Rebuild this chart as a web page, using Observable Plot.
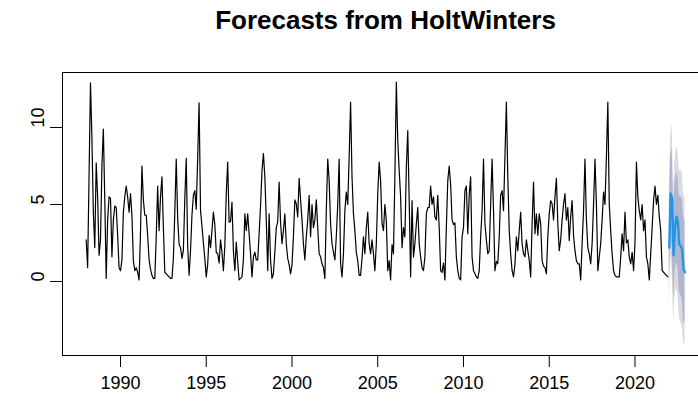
<!DOCTYPE html>
<html><head><meta charset="utf-8">
<script src="https://cdn.jsdelivr.net/npm/d3@7"></script>
<script src="https://cdn.jsdelivr.net/npm/@observablehq/plot@0.6"></script>
<style>html,body{margin:0;padding:0;background:#fff;overflow:hidden;}</style>
</head><body><div id="chart"></div>
<script>
const titleText = "Forecasts from HoltWinters";
const startYear = 1988;
// monthly observations, Jan 1988 - Dec 2021 (one row per year)
const observed = [
  2.7, 0.9, 6.9, 12.9, 9.3, 4.5, 2.2, 7.7, 5.5, 1.7, 2.7, 7.5,
  9.9, 5.3, 0.2, 4.0, 5.5, 5.4, 1.6, 4.0, 4.9, 4.8, 3.0, 0.9,
  0.7, 1.4, 4.5, 5.5, 6.2, 5.5, 4.5, 5.7, 4.3, 1.35, 0.7, 0.9,
  0.6, 0.1, 3.2, 7.5, 5.3, 4.3, 4.3, 3.0, 1.4, 0.8, 0.4, 0.2,
  0.2, 2.9, 6.2, 3.3, 5.5, 6.8, 3.5, 0.6, 0.5, 0.4, 0.3, 0.2,
  0.2, 1.5, 4.5, 7.95, 4.1, 2.4, 2.2, 1.5, 2.0, 5.4, 8.0, 2.3,
  0.4, 2.0, 4.3, 5.6, 5.9, 4.7, 8.0, 11.6, 4.6, 3.6, 2.5, 1.5,
  0.3, 1.1, 3.0, 2.2, 3.3, 4.5, 3.7, 1.9, 1.8, 1.2, 2.7, 1.9,
  0.7, 2.3, 5.7, 7.75, 3.85, 3.9, 5.15, 2.0, 0.7, 2.55, 1.3, 0.1,
  0.2, 0.3, 1.4, 4.4, 3.3, 4.4, 3.1, 1.8, 0.3, 1.6, 1.9, 1.4,
  1.4, 3.1, 4.9, 7.2, 8.3, 6.8, 4.0, 0.7, 4.4, 1.4, 0.2, 0.5,
  1.9, 3.5, 3.85, 6.45, 3.85, 2.45, 3.3, 4.4, 2.45, 1.5, 1.1, 0.5,
  1.1, 2.9, 5.3, 5.05, 4.2, 6.7, 5.3, 4.0, 2.45, 1.4, 2.9, 4.0,
  5.6, 2.9, 5.0, 3.5, 4.0, 5.3, 3.5, 1.8, 1.6, 1.15, 0.9, 0.2,
  4.6, 7.95, 6.55, 3.75, 2.45, 1.9, 1.4, 2.9, 5.0, 7.95, 1.15, 0.3,
  1.8, 4.6, 5.8, 5.0, 8.1, 11.65, 6.8, 4.4, 3.3, 1.9, 1.35, 0.4,
  0.4, 1.5, 2.9, 1.8, 3.5, 4.5, 2.45, 1.8, 2.7, 1.8, 0.7, 2.45,
  5.7, 7.75, 6.55, 3.75, 3.3, 5.0, 3.95, 0.7, 1.35, 0.1, 2.4, 1.8,
  6.9, 12.94, 9.15, 7.2, 5.5, 2.2, 3.5, 2.9, 7.4, 9.8, 5.25, 0.3,
  5.25, 1.6, 2.45, 3.75, 4.8, 2.45, 1.6, 0.9, 0.7, 1.6, 4.4, 4.8,
  4.8, 6.2, 5.0, 5.5, 4.2, 4.0, 5.6, 3.5, 0.7, 0.6, 1.2, 0.1,
  3.5, 6.55, 7.5, 6.3, 4.0, 3.7, 3.8, 1.6, 0.7, 0.2, 0.1, 2.9,
  3.5, 5.9, 6.2, 3.1, 5.6, 6.8, 1.6, 0.7, 0.5, 0.3, 0.2, 0.7,
  2.9, 4.6, 7.95, 3.75, 2.7, 1.8, 2.0, 5.0, 7.95, 4.6, 0.7, 1.3,
  1.15, 2.9, 5.6, 5.9, 4.6, 8.1, 11.65, 6.8, 3.3, 1.8, 0.7, 0.3,
  1.1, 2.9, 2.0, 3.3, 4.5, 2.45, 1.8, 1.6, 2.7, 2.0, 1.4, 0.3,
  3.7, 6.45, 3.1, 4.4, 3.0, 4.4, 3.75, 1.35, 1.0, 0.9, 0.5, 2.9,
  4.4, 5.25, 5.05, 4.0, 5.5, 6.7, 3.75, 2.0, 2.7, 4.0, 5.0, 5.7,
  4.0, 4.8, 2.65, 4.2, 5.25, 3.0, 2.0, 1.35, 1.15, 1.15, 0.1, 2.45,
  4.6, 7.95, 4.0, 2.2, 1.8, 1.15, 2.45, 5.0, 7.95, 5.0, 0.7, 1.6,
  2.45, 4.0, 5.8, 5.0, 8.1, 11.65, 5.0, 3.3, 1.8, 0.7, 0.4, 0.3,
  0.3, 0.3, 1.6, 3.1, 2.0, 4.5, 2.5, 2.7, 1.6, 1.15, 1.9, 0.7,
  2.5, 7.75, 5.5, 4.6, 4.0, 5.0, 3.3, 4.0, 1.6, 1.15, 0.1, 1.8,
  3.5, 5.25, 6.2, 5.0, 5.6, 4.2, 3.3, 0.7, 0.6, 0.5, 0.4, 0.3
];
// forecasts for 2022 (12 months)
const forecastStart = 2022;
const fcMean = [2.2, 5.7, 5.4, 1.7, 3.5, 4.2, 3.9, 2.4, 2.3, 2.1, 0.8, 0.6];
const fcHi95 = [6.0, 9.6, 10.2, 6.0, 7.9, 8.7, 8.6, 7.2, 7.2, 7.1, 5.8, 5.3];
const fcLo95 = [-1.6, 1.8, 0.6, -2.6, -1.0, -0.4, -0.8, -2.4, -2.6, -2.9, -4.1, -4.0];
const fcHi80 = [4.9, 8.3, 8.6, 4.5, 6.4, 7.1, 6.9, 5.5, 5.5, 5.4, 4.2, 3.9];
const fcLo80 = [-0.5, 3.1, 2.2, -1.1, 0.6, 1.3, 0.9, -0.7, -0.9, -1.2, -2.6, -2.7];
const xTicks = [1990, 1995, 2000, 2005, 2010, 2015, 2020];
const yTicks = [0, 5, 10];

const obsData = observed.map((v, i) => ({t: startYear + i / 12, v}));
const fcData = fcMean.map((v, i) => ({
  t: forecastStart + i / 12, mean: v,
  lo80: fcLo80[i], hi80: fcHi80[i], lo95: fcLo95[i], hi95: fcHi95[i]
}));

const chart = Plot.plot({
  width: 698, height: 407,
  marginLeft: 62, marginRight: -10, marginTop: 72, marginBottom: 52,
  x: {domain: [1986.618, 2024.286]},
  y: {domain: [-4.805, 13.57]},
  style: {fontFamily: "'Liberation Sans', Arial, sans-serif", background: "#fff", color: "black", overflow: "hidden"},
  marks: [
    Plot.areaY(fcData, {x: "t", y1: "lo95", y2: "hi95", fill: "#DBDBDF"}),
    Plot.areaY(fcData, {x: "t", y1: "lo80", y2: "hi80", fill: "#B1B5CE"}),
    Plot.lineY(obsData, {x: "t", y: "v", stroke: "black", strokeWidth: 1.2}),
    Plot.lineY(fcData, {x: "t", y: "mean", stroke: "#2297E6", strokeWidth: 2.4}),
    Plot.frame({stroke: "black", strokeWidth: 1}),
    Plot.axisX(xTicks, {tickSize: 12, tickPadding: 9, tickFormat: d => String(d), fontSize: 18, label: null}),
    Plot.axisY(yTicks, {tickSize: 12, tickFormat: () => "", label: null}),
    Plot.text(yTicks, {y: d => d, frameAnchor: "left", dx: -24, rotate: -90, text: d => String(d), fontSize: 18, fill: "black"}),
    Plot.text([titleText], {frameAnchor: "top", lineAnchor: "middle", dy: -52, text: d => d, fontSize: 26, fontWeight: "bold", fill: "black"})
  ]
});
document.getElementById("chart").appendChild(chart);
</script>
</body></html>
